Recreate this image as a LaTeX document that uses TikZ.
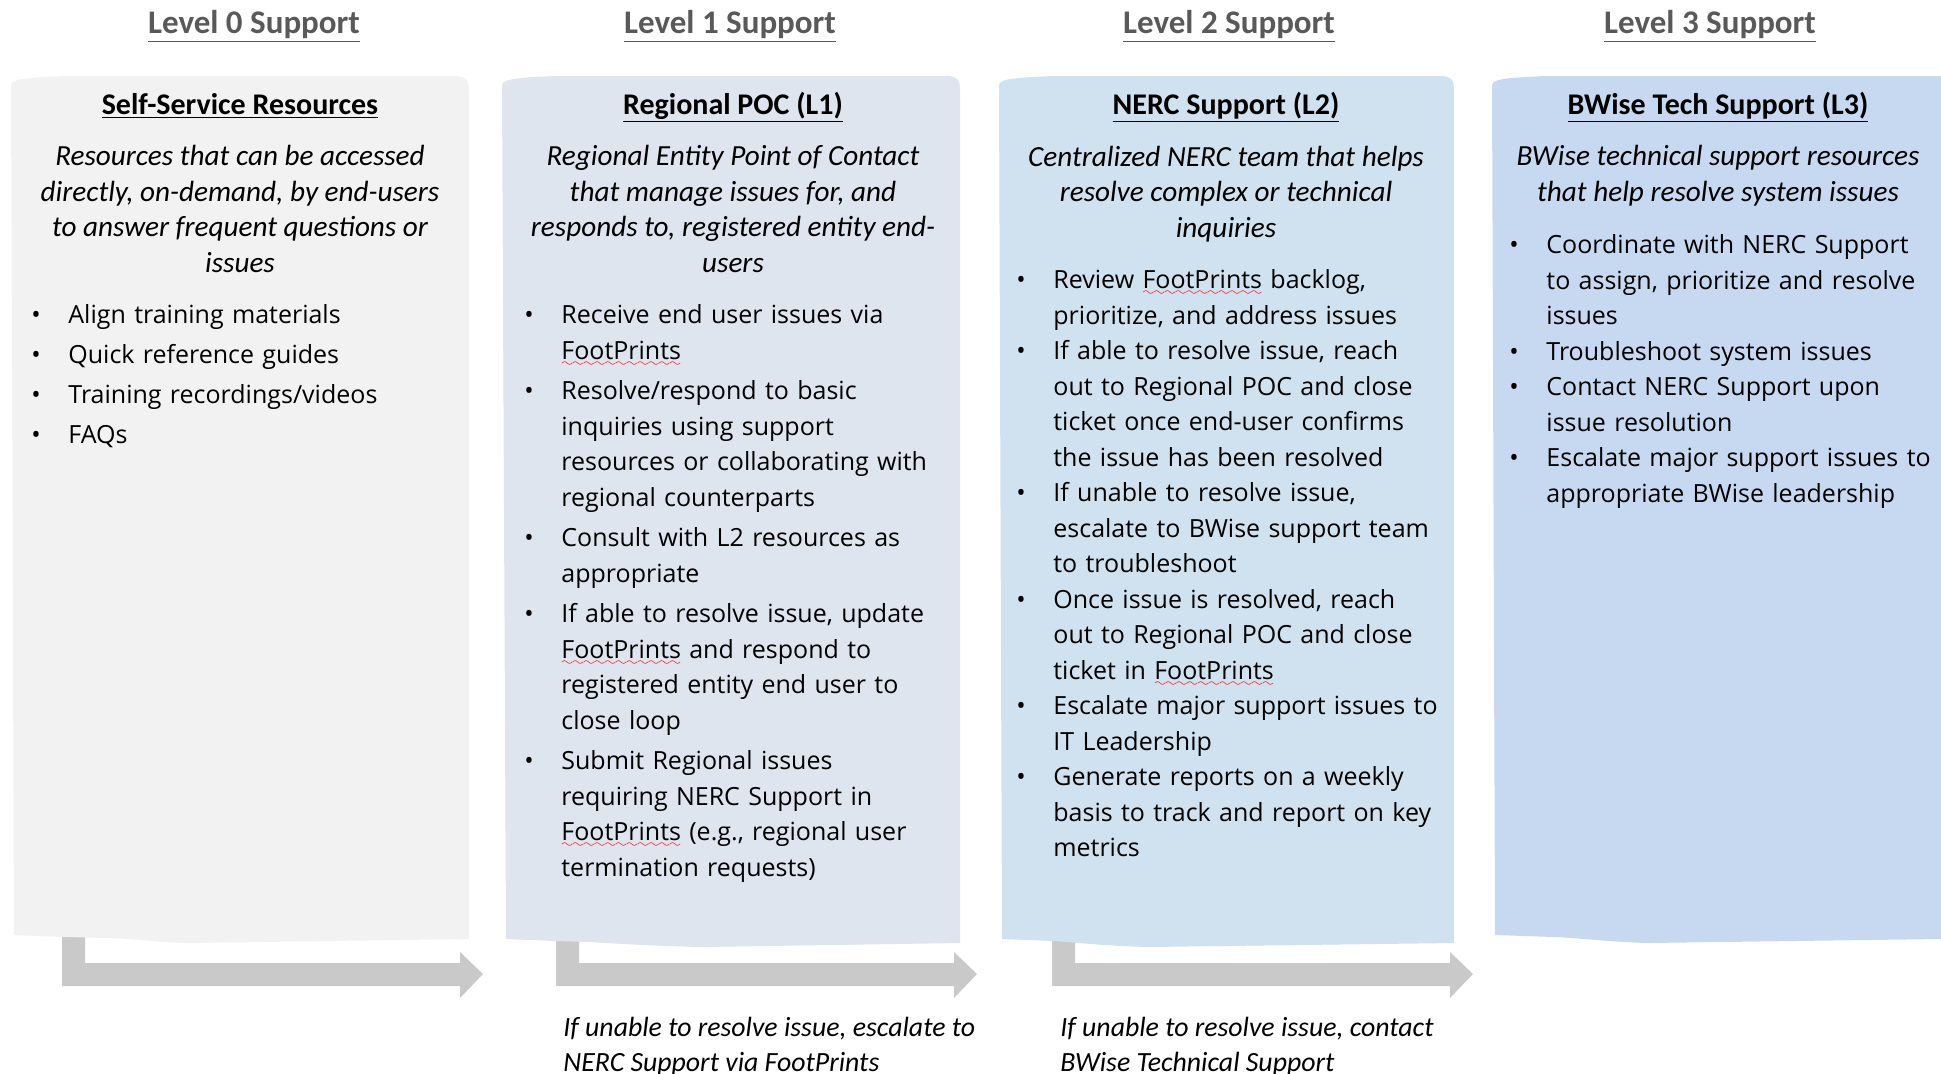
\documentclass[tikz,border=0pt]{standalone}
\usepackage{fontspec}
\setmainfont{Open Sans}
\newfontfamily\calib{Carlito}
\usepackage{xcolor}

\definecolor{levelzero}{HTML}{F2F2F2}
\definecolor{levelone}{HTML}{DEE5EE}
\definecolor{leveltwo}{HTML}{D0E1EF}
\definecolor{levelthree}{HTML}{C7D9F1}
\definecolor{arrowgray}{HTML}{C9C9C9}
\definecolor{hdrgray}{HTML}{595959}

% red squiggle under words flagged by the spell checker
\font\wavefont=lasy6
\newsavebox\spellbox
\newcommand\spellmark[1]{\leavevmode\sbox\spellbox{#1}%
  \rlap{\textcolor{red}{\lower3.5pt\hbox to \wd\spellbox{\xleaders\hbox{\wavefont\char58}\hfil}}}\usebox\spellbox}

\newenvironment{tasklist}[1][0pt]{\begin{list}{\textbullet}{\setlength\leftmargin{18.5pt}\setlength\labelwidth{18.5pt}%
  \setlength\labelsep{0pt}\setlength\itemsep{#1}\setlength\topsep{0pt}\setlength\parsep{0pt}\setlength\partopsep{0pt}%
  \renewcommand\makelabel[1]{##1\hfil}}}{\end{list}}

\begin{document}
\begin{tikzpicture}[x=0.5pt,y=-0.5pt,
	lvlhead/.style={font=\calib\bfseries\fontsize{16.5}{20}\selectfont, text=hdrgray, anchor=base, inner sep=0pt},
	boxtitle/.style={font=\calib\bfseries\fontsize{15}{18}\selectfont, anchor=base, inner sep=0pt},
	boxdesc/.style={font=\calib\itshape\fontsize{14.6}{17.75}\selectfont, align=center, anchor=base, inner sep=0pt},
	bullets/.style={font=\fontsize{12.5}{17.75}\selectfont, text width=215pt, align=left, anchor=base west, inner sep=0pt},
	escnote/.style={font=\calib\itshape\fontsize{13.9}{17.5}\selectfont, align=left, anchor=base west, inner sep=0pt},
	blockarrow/.style={fill=arrowgray}]
	\useasboundingbox (0,0) rectangle (1941,1073);

%	escalation arrows, drawn first so the boxes cover their stems
	\foreach \n/\ax in {0/62, 1/556, 2/1052}{
		\coordinate (arrow\n) at (\ax,930);
		\fill[blockarrow] (arrow\n) -- ++(23,0) -- ++(0,33) -- ++(375,0) -- ++(0,-11) -- ++(23,22)
			-- ++(-23,24) -- ++(0,-12) -- ++(-398,0) -- cycle;
	}

%	support boxes with their rough edges
	\fill[levelzero] (11,86) .. controls (11,79) and (22,78) .. (64,76) -- (455,76) .. controls (466,76) and (469,80) .. (469,90)
		-- (469,939) -- (191,943) .. controls (160,943) and (140,939) .. (110,938) -- (64,937) -- (14,935) -- cycle;
	\fill[levelone] (502,86) .. controls (502,79) and (513,78) .. (555,76) -- (946,76) .. controls (957,76) and (960,80) .. (960,90)
		-- (960,943) -- (702,947) .. controls (660,946) and (620,944) .. (590,942) -- (555,941) -- (506,939) -- cycle;
	\fill[leveltwo] (999,86) .. controls (999,79) and (1010,78) .. (1052,76) -- (1440,76) .. controls (1451,76) and (1454,80) .. (1454,90)
		-- (1454,943) -- (1148,947) .. controls (1110,946) and (1080,943) .. (1054,941) -- (1002,939) -- cycle;
	\fill[levelthree] (1492,86) .. controls (1492,79) and (1503,78) .. (1545,76) -- (1941,76)
		-- (1941,939) -- (1648,943) .. controls (1610,942) and (1580,938) .. (1554,937) -- (1495,935) -- cycle;

%	column headers
	\node[lvlhead] (head0) at (254,33) {\underline{Level 0 Support}};
	\node[lvlhead] (head1) at (730,33) {\underline{Level 1 Support}};
	\node[lvlhead] (head2) at (1229,33) {\underline{Level 2 Support}};
	\node[lvlhead] (head3) at (1710,33) {\underline{Level 3 Support}};

%	box titles and descriptions (base = last line)
	\node[boxtitle] (title0) at (240,114) {\underline{Self-Service Resources}};
	\node[boxtitle] (title1) at (733,114) {\underline{Regional POC (L1)}};
	\node[boxtitle] (title2) at (1226,114) {\underline{NERC Support (L2)}};
	\node[boxtitle] (title3) at (1718,114) {\underline{BWise Tech Support (L3)}};

	\node[boxdesc] (desc0) at (240,272) {Resources that can be accessed\\directly, on-demand, by end-users\\to answer frequent questions or\\issues};
	\node[boxdesc] (desc1) at (733,272) {Regional Entity Point of Contact\\that manage issues for, and\\responds to, registered entity end-\\users};
	\node[boxdesc] (desc2) at (1226,237) {Centralized NERC team that helps\\resolve complex or technical\\inquiries};
	\node[boxdesc] (desc3) at (1718,201) {BWise technical support resources\\that help resolve system issues};

%	task lists
	\node[bullets] (tasks0) at (31,288) {\begin{tasklist}[2.25pt]
		\item Align training materials
		\item Quick reference guides
		\item Training recordings/videos
		\item FAQs
	\end{tasklist}};
	\node[bullets] (tasks1) at (524,288) {\begin{tasklist}[2.5pt]
		\item Receive end user issues via\\\spellmark{FootPrints}
		\item Resolve/respond to basic\\inquiries using support\\resources or collaborating with\\regional counterparts
		\item Consult with L2 resources as\\appropriate
		\item If able to resolve issue, update\\\spellmark{FootPrints} and respond to\\registered entity end user to\\close loop
		\item Submit Regional issues\\requiring NERC Support in\\\spellmark{FootPrints} (e.g., regional user\\termination requests)
	\end{tasklist}};
	\node[bullets] (tasks2) at (1016,253) {\begin{tasklist}
		\item Review \spellmark{FootPrints} backlog,\\prioritize, and address issues
		\item If able to resolve issue, reach\\out to Regional POC and close\\ticket once end-user confirms\\the issue has been resolved
		\item If unable to resolve issue,\\escalate to BWise support team\\to troubleshoot
		\item Once issue is resolved, reach\\out to Regional POC and close\\ticket in \spellmark{FootPrints}
		\item Escalate major support issues to\\IT Leadership
		\item Generate reports on a weekly\\basis to track and report on key\\metrics
	\end{tasklist}};
	\node[bullets] (tasks3) at (1509,218) {\begin{tasklist}
		\item Coordinate with NERC Support\\to assign, prioritize and resolve\\issues
		\item Troubleshoot system issues
		\item Contact NERC Support upon\\issue resolution
		\item Escalate major support issues to\\appropriate BWise leadership
	\end{tasklist}};

%	notes under the arrows
	\node[escnote] (note1) at (563,1071) {If unable to resolve issue, escalate to\\NERC Support via FootPrints};
	\node[escnote] (note2) at (1060,1071) {If unable to resolve issue, contact\\BWise Technical Support};
\end{tikzpicture}
\end{document}
